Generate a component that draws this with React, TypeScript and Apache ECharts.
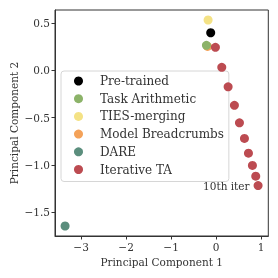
import React, { useEffect, useRef } from "react";
import * as echarts from "echarts";

const pretrained = [[-0.12, 0.4]];
const taskArithmetic = [[-0.215, 0.266]];
const tiesMerging = [[-0.178, 0.535]];
const modelBreadcrumbs = [[-0.19, 0.255]];
const dare = [[-3.356, -1.649]];
const iterativeTA = [
  [-0.015, 0.245],
  [0.126, 0.033],
  [0.267, -0.173],
  [0.407, -0.37],
  [0.519, -0.555],
  [0.63, -0.721],
  [0.719, -0.877],
  [0.807, -1.007],
  [0.881, -1.121],
  [0.933, -1.22],
];
const xTicks = [-3, -2, -1, 0, 1];
const yTicks = [-1.5, -1.0, -0.5, 0.0, 0.5];
const iterLabel = "10th iter";

const FONT = "DejaVu Serif";
const TXT = "#333";

const fmt = (v: number, d: number) => (v < 0 ? "\u2212" : "") + Math.abs(v).toFixed(d);

export default function App() {
  const ref = useRef<HTMLDivElement>(null);
  useEffect(() => {
    const chart = echarts.init(ref.current!, null, { renderer: "svg" });
    const mk = (name: string, data: any[], color: string, z = 2) => ({
      type: "scatter",
      name,
      data,
      symbolSize: 9,
      z,
      itemStyle: { color, opacity: 1 },
      emphasis: { disabled: true },
    });
    const lastIdx = iterativeTA.length - 1;
    chart.setOption({
      animation: false,
      textStyle: { fontFamily: FONT },
      grid: {
        left: 55,
        right: 9.7,
        top: 10,
        bottom: 42,
        containLabel: false,
        outerBoundsMode: "none",
        show: true,
        borderColor: "#333",
        borderWidth: 1,
      },
      legend: {
        left: 61,
        top: 71,
        orient: "vertical",
        itemWidth: 9,
        itemHeight: 9,
        itemGap: 5.7,
        padding: [4, 5, 6, 13],
        borderColor: "#d6d6d6",
        borderWidth: 1,
        borderRadius: 3,
        backgroundColor: "#fff",
        icon: "circle",
        textStyle: { fontFamily: FONT, fontSize: 12, color: TXT, lineHeight: 11, padding: [0, 0, 0, 12] },
        data: ["Pre-trained", "Task Arithmetic", "TIES-merging", "Model Breadcrumbs", "DARE", "Iterative TA"],
      },
      xAxis: {
        type: "value",
        min: -3.58,
        max: 1.16,
        name: "Principal Component 1",
        nameLocation: "middle",
        nameGap: 20,
        nameMoveOverlap: false,
        nameTextStyle: { fontFamily: FONT, fontSize: 10.5, color: TXT },
        splitLine: { show: false },
        axisLine: { show: true, onZero: false, lineStyle: { color: "#333" } },
        axisTick: { show: true, inside: false, length: 3.5, lineStyle: { color: "#333" }, customValues: xTicks },
        axisLabel: {
          color: TXT,
          fontSize: 10.5,
          fontFamily: FONT,
          margin: 5,
          customValues: xTicks,
          formatter: (v: number) => fmt(v, 0),
        },
      },
      yAxis: {
        type: "value",
        min: -1.755,
        max: 0.641,
        name: "Principal Component 2",
        nameLocation: "middle",
        nameGap: 36,
        nameMoveOverlap: false,
        nameTextStyle: { fontFamily: FONT, fontSize: 10.5, color: TXT },
        splitLine: { show: false },
        axisLine: { show: true, onZero: false, lineStyle: { color: "#333" } },
        axisTick: { show: true, inside: false, length: 3.5, lineStyle: { color: "#333" }, customValues: yTicks },
        axisLabel: {
          color: TXT,
          fontSize: 10.5,
          fontFamily: FONT,
          margin: 5,
          customValues: yTicks,
          formatter: (v: number) => fmt(v, 1),
        },
      },
      series: [
        mk("Pre-trained", pretrained, "#000000", 3),
        mk("Task Arithmetic", taskArithmetic, "#8cb369", 3),
        mk("TIES-merging", tiesMerging, "#f4e285", 3),
        mk("Model Breadcrumbs", modelBreadcrumbs, "#f4a259", 2),
        mk("DARE", dare, "#5b8e7d", 3),
        mk(
          "Iterative TA",
          iterativeTA.map((p, i) =>
            i === lastIdx
              ? {
                  value: p,
                  label: {
                    show: true,
                    position: "left",
                    distance: 4,
                    formatter: iterLabel,
                    color: TXT,
                    fontFamily: FONT,
                    fontSize: 10.5,
                  },
                }
              : p
          ),
          "#bc4b51",
          4
        ),
      ],
    });
    return () => chart.dispose();
  }, []);
  return <div ref={ref} style={{ position: "fixed", left: 0, top: 0, width: 278, height: 278 }} />;
}
